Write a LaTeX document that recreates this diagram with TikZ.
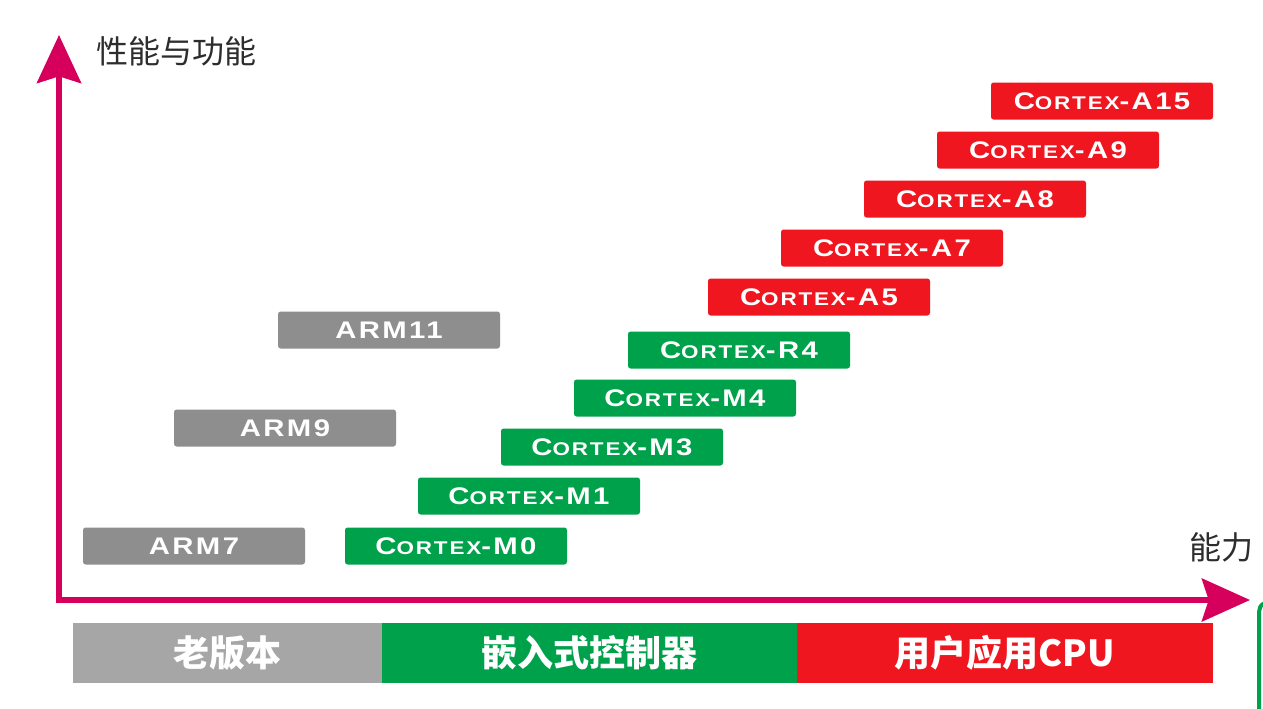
\documentclass[tikz,border=0pt]{standalone}
\usepackage{fontspec}
\usetikzlibrary{arrows.meta}
\newfontfamily\cjk{Noto Sans CJK SC}
\newfontfamily\boxfont[FakeStretch=1.22,LetterSpace=10]{Liberation Sans Bold}
\definecolor{axiscol}{RGB}{214,0,92}
\definecolor{redbox}{RGB}{240,22,32}
\definecolor{greenbox}{RGB}{0,161,75}
\definecolor{graybox}{RGB}{142,142,142}
\definecolor{graybar}{RGB}{166,166,166}
\definecolor{labelcol}{RGB}{45,45,45}
\newcommand\bigsz{\fontsize{18}{20}\selectfont}
\newcommand\smlsz{\fontsize{13.8}{15}\selectfont}
\newcommand\cx[1]{{\boxfont\bigsz C\smlsz ORTEX\bigsz -#1}}
\newcommand\armname[1]{{\boxfont\bigsz #1}}
\begin{document}
\begin{tikzpicture}[x=0.75pt,y=-0.75pt,
  chip/.style={rounded corners=2pt,minimum width=166.5pt,minimum height=27.75pt,inner sep=0pt,text=white},
  redchip/.style={chip,fill=redbox},
  greenchip/.style={chip,fill=greenbox},
  graychip/.style={chip,fill=graybox},
  bar/.style={minimum height=45pt,inner sep=0pt,text=white,font=\cjk\bfseries\fontsize{27}{30}\selectfont},
  axis/.style={draw=axiscol,line width=4.6pt,
    arrows={Stealth[length=36pt,width=33pt,inset=5pt]-Stealth[length=36pt,width=32pt,inset=5pt]}},
  axlabel/.style={anchor=west,inner sep=0pt,text=labelcol,font=\cjk\fontsize{24}{27}\selectfont}]
\useasboundingbox (0,0) rectangle (1263,708);
\fill[white] (0,0) rectangle (1263,708);
% axes
\coordinate (ytip) at (59,35);
\coordinate (xtip) at (1250,600);
\draw[axis] (ytip) |- (xtip);
\node[axlabel] (ylab) at (96,51) {性能与功能};
\node[axlabel] (xlab) at (1189,547) {能力};
% Cortex-A
\node[redchip] (a15) at (1102,101) {\cx{A15}};
\node[redchip] (a9) at (1048,150) {\cx{A9}};
\node[redchip] (a8) at (975,199) {\cx{A8}};
\node[redchip] (a7) at (892,248) {\cx{A7}};
\node[redchip] (a5) at (819,297) {\cx{A5}};
% Cortex-R/M
\node[greenchip] (r4) at (739,350) {\cx{R4}};
\node[greenchip] (m4) at (685,398) {\cx{M4}};
\node[greenchip] (m3) at (612,447) {\cx{M3}};
\node[greenchip] (m1) at (529,496) {\cx{M1}};
\node[greenchip] (m0) at (456,546) {\cx{M0}};
% ARM
\node[graychip] (arm11) at (389,330) {\armname{ARM11}};
\node[graychip] (arm9) at (285,428) {\armname{ARM9}};
\node[graychip] (arm7) at (194,546) {\armname{ARM7}};
% bottom bar
\node[bar,fill=graybar,minimum width=231.75pt] (old) at (227.5,653) {老版本};
\node[bar,fill=greenbox,minimum width=311.25pt] (emb) at (589.5,653) {嵌入式控制器};
\node[bar,fill=redbox,minimum width=312pt] (app) at (1005,653) {用户应用CPU};
% cropped green stroke at the right edge
\draw[greenbox,line width=3pt] (1266,603) .. controls (1260,604) and (1259,608) .. (1259,616) -- (1259,710);
\end{tikzpicture}
\end{document}
